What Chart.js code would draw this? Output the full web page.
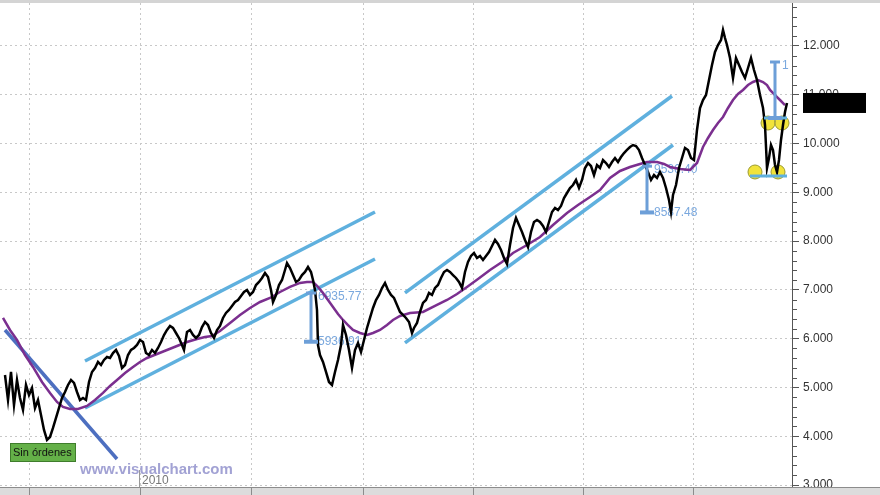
<!DOCTYPE html>
<html>
<head>
<meta charset="utf-8">
<script src="https://cdn.jsdelivr.net/npm/chart.js@4/dist/chart.umd.min.js"></script>
<style>
  html, body { margin: 0; padding: 0; background: #fff; }
  #chart { display: block; }
</style>
</head>
<body>
<canvas id="chart" width="880" height="495"></canvas>
<script>
// bar index (session) and close values
const priceX = [5,8,11,14,17,20,23,26,29,32,35,38,41,44,47,50,53,56,59,62,65,68,71,74,77,80,83,86,89,92,95,98,101,104,107,110,113,116,119,122,125,128,131,134,137,140,143,146,149,152,155,158,161,164,167,170,173,176,179,182,184,187,190,193,196,199,
  202,205,208,211,214,217,220,223,226,229,232,235,238,241,244,247,250,253,256,259,262,265,268,271,273,276,279,282,285,287,290,293,296,299,302,305,308,311,313,315,317,318,320,323,326,329,332,335,338,341,343,346,349,352,355,358,361,364,367,370,373,376,379,382,385,388,
  391,394,397,400,403,406,409,412,414,417,420,423,426,429,432,435,438,441,444,447,450,453,456,459,462,465,468,471,474,477,480,483,486,489,492,495,498,501,504,507,510,513,516,519,522,525,528,531,534,537,540,543,546,549,552,555,558,561,564,567,570,573,576,579,582,585,588,591,594,597,600,
  603,606,609,612,615,618,621,624,627,630,633,636,639,642,645,648,651,654,657,660,663,666,669,671,673,676,679,682,685,688,691,694,697,700,703,706,709,712,715,718,721,723,725,727,730,733,736,739,742,745,748,751,754,757,760,763,765,767,769,771,773,775,777,779,781,783,785,787];
const priceY = [5255,4743,5317,4640,5153,4784,4538,5051,4845,4989,4579,4743,4435,4128,3923,3984,4169,4374,4579,4784,4907,5051,5153,5092,4907,4743,4784,4743,5112,5317,5399,5522,5460,5563,5624,5604,5706,5768,5645,5399,5460,5665,5768,5809,5870,5973,5932,5706,5665,5768,5706,5809,5932,6075,6178,6260,6219,6116,6014,5870,5768,6137,6178,6075,6014,6075,
  6239,6342,6280,6116,6014,6178,6260,6424,6527,6588,6670,6752,6793,6875,6957,6998,6896,6957,7100,7162,7244,7346,7264,6998,6752,6896,7100,7203,7408,7551,7449,7305,7162,7203,7305,7367,7469,7367,7203,6998,6588,5870,5665,5522,5317,5112,5051,5317,5563,5870,6280,6075,5768,5399,5768,5912,5727,5973,6219,6424,6629,6793,6896,7039,7142,6998,
  6896,6834,6691,6547,6486,6424,6342,6116,6219,6322,6547,6732,6793,6937,6896,7039,7100,7244,7367,7408,7367,7305,7244,7162,7039,7367,7572,7695,7756,7654,7695,7613,7695,7777,7900,8023,7941,7818,7654,7531,7920,8269,8474,8330,8187,8023,7879,8187,8392,8433,8392,8310,8187,8392,8597,8679,8638,8720,8884,8986,9089,9150,9253,9089,9253,9499,9601,9540,9355,9560,9499,
  9663,9601,9519,9622,9704,9622,9724,9806,9868,9929,9970,9950,9868,9704,9560,9417,9253,9355,9294,9417,9294,9089,8843,8597,8945,9150,9499,9704,9909,9868,9704,9663,10278,10729,10893,10995,11303,11610,11877,12020,12123,12328,12164,12020,11754,11344,11754,11610,11467,11344,11549,11754,11508,11303,10995,10729,10380,9499,9704,9970,9868,9560,9417,9663,10073,10380,10647,10832];

// moving average
const maX = [3,10,17,25,33,42,50,57,63,70,78,87,95,103,110,117,125,133,140,147,157,167,177,187,197,205,212,220,230,240,250,260,270,280,290,300,307,313,318,323,328,333,338,343,348,353,360,367,373,380,387,393,400,410,423,435,447,457,467,478,490,502,513,527,540,553,567,578,590,600,610,620,630,640,647,657,664,670,680,690,697,703,708,713,718,723,728,733,738,743,748,753,758,763,767,770,775,780,785];
const maY = [6424,6178,5973,5665,5420,5112,4887,4702,4600,4559,4559,4620,4743,4887,5030,5153,5297,5420,5522,5604,5686,5768,5850,5932,5994,6035,6055,6158,6322,6486,6629,6752,6834,6957,7060,7142,7162,7162,7060,6937,6793,6650,6506,6383,6280,6178,6117,6076,6117,6178,6280,6383,6465,6527,6547,6670,6793,6916,7060,7224,7408,7572,7756,7920,8085,8330,8577,8740,8905,9048,9294,9438,9520,9581,9622,9622,9581,9520,9479,9458,9602,9930,10114,10278,10422,10545,10729,10893,11016,11098,11200,11262,11303,11262,11200,11098,10995,10893,10790];

// trend lines: [x1, y1, x2, y2]
const channel1Up = [85, 5542, 375, 8597];
const channel1Low = [85, 4579, 375, 7634];
const channel2Up = [405, 6937, 672, 10975];
const channel2Low = [405, 5912, 673, 9970];
const downLine = [5, 6178, 117, 3533];

// vertical measure markers: [x, top, bottom]
const markers = [[311, 6935.77, 5936.91], [647, 9536.40, 8587.48], [775, 11672, 10524]];
const markerLabels = [["6935.77", "5936.91"], ["9536.40", "8587.48"], ["1", ""]];
const levelBars = [[764, 787, 10524], [750, 787, 9335]];
const yellowX = [755, 778, 768, 782];
const yellowY = [9417, 9417, 10421, 10421];

const yTicks = [3000, 4000, 5000, 6000, 7000, 8000, 9000, 10000, 11000, 12000];
const gridX = [29, 140, 251, 363, 473, 583, 693];
const lastPrice = 10832;

const toPts = (xs, ys) => xs.map((x, i) => ({ x: x, y: ys[i] }));
const seg = (l) => [{ x: l[0], y: l[1] }, { x: l[2], y: l[3] }];

const lightBlue = '#5fb0de';
const markBlue = '#6d9fd8';

let datasets = [
  { data: seg(channel1Up), borderColor: lightBlue, borderWidth: 3.5, order: 6 },
  { data: seg(channel1Low), borderColor: lightBlue, borderWidth: 3.5, order: 6 },
  { data: seg(channel2Up), borderColor: lightBlue, borderWidth: 3.5, order: 6 },
  { data: seg(channel2Low), borderColor: lightBlue, borderWidth: 3.5, order: 6 },
  { data: seg(downLine), borderColor: '#4d6fc0', borderWidth: 3.5, order: 6 },
  { data: toPts(yellowX, yellowY), showLine: false, pointRadius: 7, pointBackgroundColor: '#f1e33a',
    pointBorderColor: '#9a9a30', pointBorderWidth: 1, order: 5 },
  { data: toPts(maX, maY), borderColor: '#7b2f8f', borderWidth: 2.5, order: 3 },
  { data: toPts(priceX, priceY), borderColor: '#000', borderWidth: 2.5, order: 2 }
];
markers.forEach(m => {
  datasets.push({ data: [{ x: m[0], y: m[1] }, { x: m[0], y: m[2] }], borderColor: markBlue, borderWidth: 3,
    pointStyle: 'line', pointRadius: [5, 7], pointBorderColor: markBlue, pointBorderWidth: [3, 4], order: 1 });
});
levelBars.forEach(b => {
  datasets.push({ data: [{ x: b[0], y: b[2] }, { x: b[1], y: b[2] }], borderColor: lightBlue, borderWidth: 3, order: 1 });
});

const extras = {
  id: 'extras',
  beforeDatasetsDraw(chart) {
    const ctx = chart.ctx, xs = chart.scales.x, ys = chart.scales.y, a = chart.chartArea;
    ctx.save();
    // vertical dotted grid
    ctx.strokeStyle = '#c8c8c8';
    ctx.lineWidth = 1;
    ctx.setLineDash([2, 3]);
    gridX.forEach(g => {
      const px = Math.round(xs.getPixelForValue(g)) + 0.5;
      ctx.beginPath(); ctx.moveTo(px, a.top); ctx.lineTo(px, a.bottom); ctx.stroke();
    });
    ctx.setLineDash([]);
    // marker values, under the price bars
    ctx.font = '12px "Liberation Sans", Arial, sans-serif';
    ctx.fillStyle = '#7aa8de';
    ctx.textBaseline = 'middle';
    markers.forEach((m, i) => {
      const px = xs.getPixelForValue(m[0]);
      ctx.fillText(markerLabels[i][0], px + 7, ys.getPixelForValue(m[1]) + 4);
      ctx.fillText(markerLabels[i][1], px + 7, ys.getPixelForValue(m[2]));
    });
    ctx.restore();
  },
  afterDraw(chart) {
    const ctx = chart.ctx, xs = chart.scales.x, ys = chart.scales.y, a = chart.chartArea;
    ctx.save();
    // axis line and minor ticks
    ctx.strokeStyle = '#555';
    ctx.lineWidth = 1;
    ctx.beginPath(); ctx.moveTo(a.right + 0.5, 0); ctx.lineTo(a.right + 0.5, 495); ctx.stroke();
    for (let v = 3000; v <= 12800; v += 200) {
      if (v % 1000 === 0) continue;
      const py = Math.round(ys.getPixelForValue(v)) + 0.5;
      ctx.beginPath(); ctx.moveTo(a.right, py); ctx.lineTo(a.right + 5, py); ctx.stroke();
    }
    // last price box
    const ly = ys.getPixelForValue(lastPrice);
    ctx.fillStyle = '#000';
    ctx.fillRect(803, ly - 10, 63, 20);
    // watermark
    ctx.font = 'bold 15px "Liberation Sans", Arial, sans-serif';
    ctx.fillStyle = '#a2a2d4';
    ctx.textBaseline = 'alphabetic';
    ctx.fillText('www.visualchart.com', 80, 474);
    // status box
    ctx.fillStyle = '#64b048';
    ctx.fillRect(10, 443, 66, 19);
    ctx.strokeStyle = '#3f7d2c';
    ctx.strokeRect(10.5, 443.5, 65, 18);
    ctx.fillStyle = '#111';
    ctx.font = '11px "Liberation Sans", Arial, sans-serif';
    ctx.fillText('Sin órdenes', 13, 456);
    // year label
    ctx.fillStyle = '#777';
    ctx.font = '12px "Liberation Sans", Arial, sans-serif';
    ctx.fillText('2010', 142, 484);
    ctx.strokeStyle = '#999';
    ctx.beginPath(); ctx.moveTo(139.5, 470); ctx.lineTo(139.5, 487); ctx.stroke();
    // top and bottom strips
    ctx.fillStyle = '#d4d4d4';
    ctx.fillRect(0, 0, 880, 3);
    ctx.fillStyle = '#dcdcdc';
    ctx.fillRect(0, 487, 880, 8);
    ctx.strokeStyle = '#8c8c8c';
    ctx.beginPath(); ctx.moveTo(0, 487.5); ctx.lineTo(880, 487.5); ctx.stroke();
    gridX.forEach(g => {
      const px = Math.round(xs.getPixelForValue(g)) + 0.5;
      ctx.beginPath(); ctx.moveTo(px, 488); ctx.lineTo(px, 495); ctx.stroke();
    });
    ctx.restore();
  }
};

new Chart(document.querySelector('#chart'), {
  type: 'line',
  data: { datasets: datasets },
  options: {
    responsive: false,
    animation: false,
    devicePixelRatio: 1,
    layout: { autoPadding: false, padding: { left: 0, right: 0, top: 3, bottom: 8 } },
    elements: { point: { radius: 0 }, line: { tension: 0 } },
    plugins: { legend: { display: false }, tooltip: { enabled: false } },
    scales: {
      x: { type: 'linear', min: 0, max: 792, display: false },
      y: {
        position: 'right', min: 2959, max: 12881.5,
        afterBuildTicks: (s) => { s.ticks = yTicks.map(v => ({ value: v })); },
        afterFit: (s) => { s.width = 88; s.paddingTop = 0; s.paddingBottom = 0; },
        ticks: {
          color: '#333', padding: 4,
          font: { family: '"Liberation Sans", Arial, sans-serif', size: 12 },
          callback: (v) => v.toLocaleString('de-DE')
        },
        border: { display: false, dash: [2, 3] },
        grid: { color: '#c8c8c8', tickColor: '#555', tickLength: 7, tickBorderDash: [] }
      }
    }
  },
  plugins: [extras]
});
</script>
</body>
</html>
